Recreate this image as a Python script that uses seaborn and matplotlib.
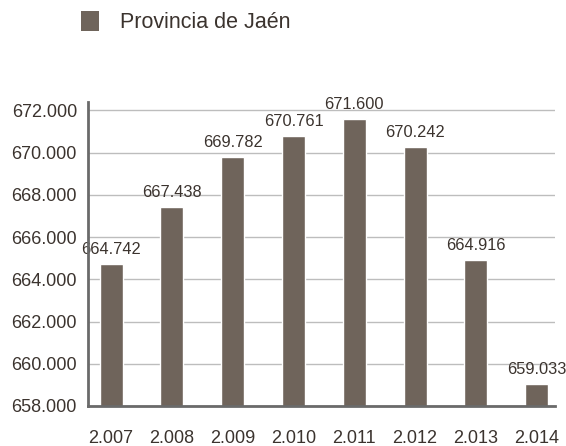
import matplotlib
matplotlib.use("Agg")
import matplotlib.pyplot as plt
import seaborn as sns
import pandas as pd
from matplotlib.patches import Patch
from matplotlib.ticker import FuncFormatter

years = ["2.007", "2.008", "2.009", "2.010", "2.011", "2.012", "2.013", "2.014"]
population = [664742, 667438, 669782, 670761, 671600, 670242, 664916, 659033]
value_labels = ["664.742", "667.438", "669.782", "670.761", "671.600", "670.242", "664.916", "659.033"]
series_name = "Provincia de Jaén"
y_ticks = [658000, 660000, 662000, 664000, 666000, 668000, 670000, 672000]

bar_color = "#6f645b"
text_color = "#3b332e"

sns.set_style("white")
plt.rcParams['font.family'] = ['Liberation Sans', 'DejaVu Sans']

df = pd.DataFrame({"year": years, "pop": population})

fig = plt.figure(figsize=(5.66, 4.46), dpi=100)
ax = fig.add_axes([0.1555, 0.0897, 0.825, 0.682])

sns.barplot(data=df, x="year", y="pop", color=bar_color, saturation=1, width=0.38, ax=ax, zorder=3)

ax.set_ylim(658000, 672400)
ax.set_xlim(-0.38, 7.3)
ax.set_yticks(y_ticks)
ax.yaxis.set_major_formatter(FuncFormatter(lambda v, p: f"{int(v):,}".replace(",", ".")))
ax.set_xlabel("")
ax.set_ylabel("")
ax.grid(axis="y", color="#bdbdbd", linewidth=1, zorder=0)
ax.grid(axis="x", visible=False)
for s in ["top", "right"]:
    ax.spines[s].set_visible(False)
for s in ["left", "bottom"]:
    ax.spines[s].set_color("#6a6a6a")
    ax.spines[s].set_linewidth(2)
    ax.spines[s].set_zorder(4)
ax.tick_params(axis="both", length=0, labelcolor=text_color, labelsize=13)
ax.tick_params(axis="y", pad=8)
ax.tick_params(axis="x", pad=17)

for i, (v, lab) in enumerate(zip(population, value_labels)):
    ax.annotate(lab, xy=(i, v), xytext=(0, 5), textcoords="offset points",
                ha="center", va="bottom", fontsize=11.8, color=text_color)

fig.legend(handles=[Patch(facecolor=bar_color, edgecolor="none", label=series_name)],
           loc="upper left", bbox_to_anchor=(0.117, 1.01), frameon=False, borderpad=0.2,
           handlelength=0.8, handleheight=1.1, handletextpad=1.0,
           fontsize=15.5, labelcolor=text_color)

fig.savefig("out.png", dpi=100)
